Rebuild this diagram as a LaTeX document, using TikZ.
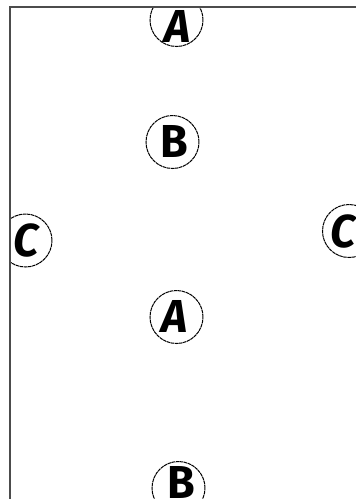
\documentclass[tikz,border=0pt]{standalone}
\usepackage{fontspec}
\setmainfont{Fira Sans}
\newcommand{\glyphat}[3]{\makebox[0pt]{\hspace*{\dimexpr 2\dimexpr #1pt\relax\relax}\raisebox{\dimexpr #2pt - 16pt\relax}[0pt][0pt]{\scalebox{1.02}[1.05]{#3}}}}
\tikzset{
  x=1pt,y=-1pt,
  letter/.style={circle,draw=black,line width=1pt,dash pattern=on 3.5pt off 0.6pt,minimum size=53pt,inner sep=0pt,
    font=\fontsize{44}{44}\bfseries\selectfont,text=black},
  frameline/.style={draw=black!70,line width=2.4pt}
}
\begin{document}
\begin{tikzpicture}
\useasboundingbox (0,0) rectangle (356,499);
\begin{scope}
\clip (10,7) rectangle (356,499);
\node[letter] (a1) at (176.5,20) {\glyphat{1}{-6.5}{\textit{A}}};
\node[letter] (b1) at (172.5,142) {\glyphat{1.5}{1}{B}};
\node[letter] (c1) at (25.5,240.5) {\glyphat{1}{0.5}{\textit{C}}};
\node[letter] (c2) at (349,231) {\glyphat{-5.5}{0}{\textit{C}}};
\node[letter] (a2) at (176.5,317) {\glyphat{-2}{0.5}{\textit{A}}};
\node[letter] (b2) at (178.5,488) {\glyphat{2.5}{6}{B}};
\end{scope}
\coordinate (tl) at (10,7);
\coordinate (tr) at (356,7);
\coordinate (bl) at (10,499);
\draw[frameline] (tr) -- (tl) -- (bl);
\end{tikzpicture}
\end{document}
